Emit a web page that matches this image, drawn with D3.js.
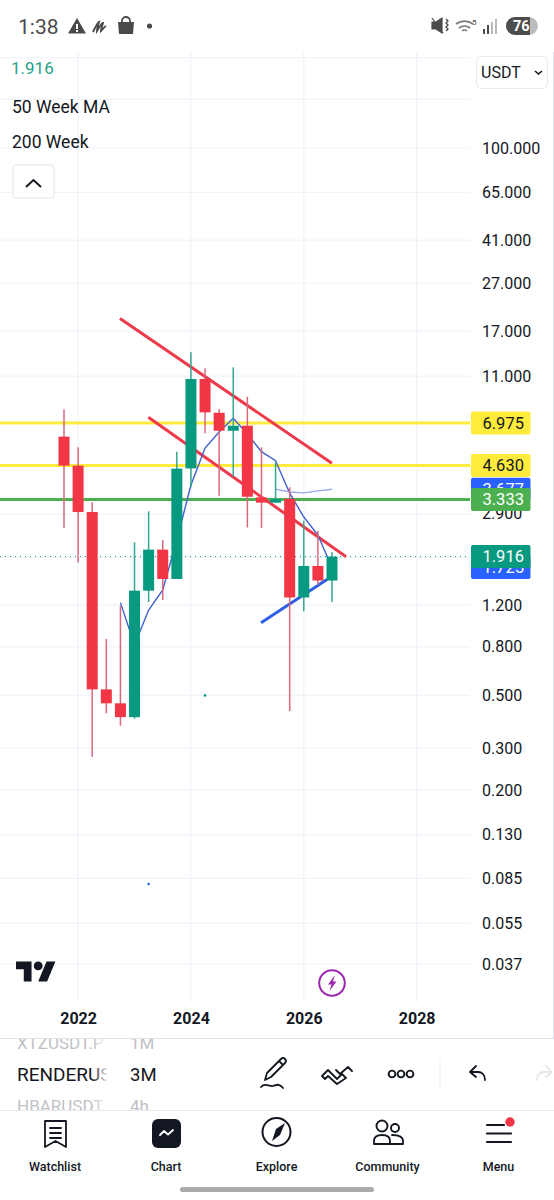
<!DOCTYPE html>
<html><head><meta charset="utf-8">
<script src="https://cdnjs.cloudflare.com/ajax/libs/d3/7.8.5/d3.min.js"></script>
<style>
html,body{margin:0;padding:0;background:#fff;overflow:hidden}
svg{display:block;font-family:Roboto,sans-serif}
text{fill:#131722}
.axis path,.axis line{display:none}
</style></head><body><svg id="c" width="554" height="1200"></svg>
<script>
// quarterly candles, first one is 2021 Q4
const opens =[6.12,4.62,2.95,0.530,0.463,0.405,1.378,2.05,1.543,4.50,10.69,7.71,6.48,6.80,3.40,3.23,3.35,1.29,1.75,1.52];
const closes=[4.62,2.95,0.530,0.463,0.405,1.378,2.05,1.543,4.49,10.69,7.74,6.48,6.80,3.42,3.23,3.35,1.29,1.75,1.52,1.916];
const highs =[7.97,5.52,3.24,0.863,1.188,2.20,2.97,2.25,5.29,13.84,11.86,8.00,11.97,9.01,5.52,4.76,3.75,2.71,2.46,2.00];
const lows  =[2.53,1.81,0.276,0.421,0.373,0.399,1.235,1.259,1.543,3.76,6.32,3.45,4.15,2.54,2.53,3.23,0.430,1.13,1.456,1.235];
const ma50Idx=[4,5,6,7,8,9,10,11,12,13,14,15,16,17,18,19];
const ma50=[1.227,0.814,1.143,1.387,2.25,3.83,5.48,6.40,7.31,6.28,5.29,4.85,3.54,2.81,2.36,1.725];
const ma200Idx=[15,16,17,18,19];
const ma200=[3.68,3.58,3.55,3.62,3.677];
const priceTicks=[100,65,41,27,17,11,2.9,1.2,0.8,0.5,0.3,0.2,0.13,0.085,0.055,0.037];
const hiddenGrid=[240,160,1.9];
const yearIdx=[1,9,17,25];
const yearLabels=["2022","2024","2026","2028"];
const levelValues=[6.975,4.630,3.333];
const levelColors=["#ffeb3b","#ffeb3b","#4caf50"];
const levelLabelColors=["#131722","#131722","#ffffff"];
const redTrendA=[[3.97,19.2],[18.99,4.73]];
const redTrendB=[[5.98,7.38],[20,1.915]];
const blueTrend=[[13.97,1.011],[18.67,1.538]];
const strayIdx=[10,6];
const strayPrice=[0.5,0.0805];
const strayColor=["#089981","#2962ff"];

const svg=d3.select("#c");
const x=d3.scaleLinear().domain([0,19]).range([64,332]);
const y=d3.scaleLog().domain([100,0.037]).range([148,964.4]);
const W=470, T=44, B=1002;
const GREEN="#089981",RED="#f23645";

const defs=svg.append("defs");
defs.append("clipPath").attr("id","pane").append("rect").attr("x",0).attr("y",T).attr("width",W).attr("height",B-T);
const pane=svg.append("g").attr("clip-path","url(#pane)");

// grid
const gridCol="#f0f3fa";
pane.append("g").selectAll("line").data(priceTicks.concat(hiddenGrid)).join("line")
 .attr("x1",0).attr("x2",W).attr("y1",d=>y(d)).attr("y2",d=>y(d)).attr("stroke",gridCol).attr("stroke-width",1.2);
pane.append("g").selectAll("line").data(yearIdx).join("line")
 .attr("x1",d=>x(d)).attr("x2",d=>x(d)).attr("y1",T+8).attr("y2",B).attr("stroke",gridCol).attr("stroke-width",1.2);

// horizontal levels
pane.append("g").selectAll("line").data(levelValues).join("line")
 .attr("x1",0).attr("x2",W).attr("y1",d=>y(d)).attr("y2",d=>y(d))
 .attr("stroke",(d,i)=>levelColors[i]).attr("stroke-width",3);
// last price line
pane.append("line").attr("x1",0).attr("x2",W).attr("y1",y(1.916)).attr("y2",y(1.916))
 .attr("stroke",GREEN).attr("stroke-width",1).attr("stroke-dasharray","1 4");

// trend lines
const seg=d3.line().x(d=>x(d[0])).y(d=>y(d[1]));
[[redTrendA,"#ee3a4b"],[redTrendB,"#ee3a4b"],[blueTrend,"#2f5fe6"]].forEach(([t,c])=>{
 pane.append("path").attr("d",seg(t)).attr("stroke",c).attr("stroke-width",3).attr("fill","none");
});
// moving averages
pane.append("path").attr("d",seg(ma50.map((v,i)=>[ma50Idx[i],v]))).attr("fill","none").attr("stroke","#3f60cf").attr("stroke-width",1.4);
pane.append("path").attr("d",seg(ma200.map((v,i)=>[ma200Idx[i],v]))).attr("fill","none").attr("stroke","#9aa9ea").attr("stroke-width",1.4);

// candles
const idx=d3.range(opens.length);
const cg=pane.append("g");
cg.selectAll(".w").data(idx).join("line").attr("class","w")
 .attr("x1",i=>x(i)).attr("x2",i=>x(i)).attr("y1",i=>y(highs[i])).attr("y2",i=>y(lows[i]))
 .attr("stroke",i=>closes[i]>=opens[i]?"#35a58d":"#d9687c").attr("stroke-width",1.5);
cg.selectAll(".b").data(idx).join("rect").attr("class","b")
 .attr("x",i=>x(i)-5.5).attr("width",11)
 .attr("y",i=>y(Math.max(opens[i],closes[i])))
 .attr("height",i=>Math.abs(y(opens[i])-y(closes[i])))
 .attr("fill",i=>closes[i]>=opens[i]?GREEN:RED);
// stray dots
pane.append("g").selectAll("circle").data(strayIdx).join("circle")
 .attr("cx",d=>x(d)).attr("cy",(d,i)=>y(strayPrice[i])).attr("r",1.3).attr("fill",(d,i)=>strayColor[i]);

// price axis
svg.append("g").attr("class","axis").attr("transform","translate(470,0)")
 .call(d3.axisRight(y).tickValues(priceTicks).tickFormat(d3.format(".3f")).tickSize(0).tickPadding(12))
 .call(g=>g.selectAll("text").attr("font-size",16).attr("font-family","Roboto").attr("fill","#131722"));
// price tags
function tag(v,bg,fg,label){
 const yy=y(v);
 const g=svg.append("g");
 g.append("rect").attr("x",471).attr("y",yy-11.5).attr("width",59.5).attr("height",23).attr("rx",2).attr("fill",bg);
 g.append("text").attr("x",482.5).attr("y",yy).attr("dy","0.35em").attr("font-size",16.5).style("fill",fg).text(label);
}
tag(3.677,"#2962ff","#fff","3.677");
tag(1.725,"#2962ff","#fff","1.725");
levelValues.forEach((v,i)=>tag(v,levelColors[i],levelLabelColors[i],d3.format(".3f")(v)));
tag(1.916,GREEN,"#fff","1.916");

// year axis
svg.append("g").attr("class","axis").attr("transform","translate(0,1002)")
 .call(d3.axisBottom(x).tickValues(yearIdx).tickFormat((d,i)=>yearLabels[i]).tickSize(0).tickPadding(11))
 .call(g=>g.selectAll("text").attr("font-size",16).attr("font-weight",700).attr("font-family","Roboto").attr("fill","#131722"));

// frame
svg.append("line").attr("x1",553.5).attr("x2",553.5).attr("y1",T+8).attr("y2",1038).attr("stroke","#e0e3eb");
svg.append("line").attr("x1",0).attr("x2",554).attr("y1",1038.5).attr("y2",1038.5).attr("stroke","#e0e3eb");

// legend
svg.append("text").attr("x",11).attr("y",74).attr("font-size",17).style("fill","#26a18a").text("1.916");
svg.append("text").attr("x",12).attr("y",113).attr("font-size",17.5).text("50 Week MA");
svg.append("text").attr("x",12).attr("y",148).attr("font-size",17.5).text("200 Week");
svg.append("rect").attr("x",13).attr("y",165).attr("width",41).attr("height",33).attr("rx",3).attr("fill","#fff").attr("stroke","#e0e3eb");
svg.append("path").attr("d","M26 187l7.5-7 7.5 7").attr("fill","none").attr("stroke","#131722").attr("stroke-width",2);
svg.append("rect").attr("x",476.5).attr("y",56.5).attr("width",71).attr("height",32).attr("rx",4).attr("fill","#fff").attr("stroke","#e8eaf0");
svg.append("text").attr("x",481).attr("y",78).attr("font-size",16).text("USDT");
svg.append("path").attr("d","M535 71l3.5 3 3.5-3").attr("fill","none").attr("stroke","#131722").attr("stroke-width",1.6);

// TradingView logo
const lg=svg.append("g").attr("transform","translate(16,957) scale(1.11)");
lg.append("path").attr("d","M14 22H7V11H0V4h14v18zM28 22h-8l7.5-18h8L28 22z").attr("fill","#131722");
lg.append("circle").attr("cx",20).attr("cy",8).attr("r",4).attr("fill","#131722");
// purple bolt
svg.append("circle").attr("cx",332).attr("cy",983).attr("r",12.8).attr("fill","#fff").attr("stroke","#9c27b0").attr("stroke-width",2);
svg.append("path").attr("d","M335 975l-7 9.5h3.5l-2 6.5 7-9.5h-3.5z").attr("fill","#9c27b0");

// status bar
const dark="#4a4a4a";
svg.append("text").attr("x",18).attr("y",34).attr("font-size",21).style("fill",dark).text("1:38");
svg.append("path").attr("d","M77 18l9 15.5H68zM76 24v5h2v-5zM76 30v2h2v-2z").attr("fill",dark).attr("fill-rule","evenodd");
svg.append("path").attr("d","M93 32c2-4 4-9 6-10-1 3-2 7-2 9 2-3 4-8 6-8-1 3-2 6-2 8 2-2 3-4 5-5").attr("fill","none").attr("stroke",dark).attr("stroke-width",1.9);
svg.append("path").attr("d","M118 22h16l-1 12h-14z").attr("fill",dark);
svg.append("path").attr("d","M122 22v-1a4 4 0 0 1 8 0v1").attr("fill","none").attr("stroke",dark).attr("stroke-width",1.8);
svg.append("circle").attr("cx",149.5).attr("cy",26).attr("r",2.6).attr("fill",dark);
svg.append("path").attr("d","M432 22h4l6-4v15l-6-4h-4zM432 18l11 15").attr("fill",dark).attr("stroke",dark).attr("stroke-width",1.2);
svg.append("path").attr("d","M446 19l2 2-2 2 2 2-2 2 2 2-2 2").attr("fill","none").attr("stroke",dark).attr("stroke-width",1.3);
svg.append("path").attr("d","M456 24a14 14 0 0 1 17 0M459 28a9 9 0 0 1 11 0M462 31a4 4 0 0 1 5 0").attr("fill","none").attr("stroke","#777").attr("stroke-width",1.6);
svg.append("text").attr("x",472).attr("y",25).attr("font-size",8).style("fill",dark).text("5");
[[483,5],[487,9],[491,12],[495,15]].forEach((b,i)=>svg.append("rect").attr("x",b[0]).attr("y",34-b[1]).attr("width",2).attr("height",b[1]).attr("fill",i<2?dark:"#bbb"));
svg.append("rect").attr("x",506).attr("y",17).attr("width",32).attr("height",18).attr("rx",9).attr("fill","#bdbdbd");
svg.append("path").attr("d","M515 17h15v18h-15a9 9 0 0 1 0-18z").attr("fill","#4d4d4d");
svg.append("text").attr("x",513).attr("y",31).attr("font-size",14.5).attr("font-weight",700).style("fill","#fff").text("76");

// symbol list
defs.append("clipPath").attr("id","wheel").append("rect").attr("x",0).attr("y",1039).attr("width",554).attr("height",71);
defs.append("clipPath").attr("id","wheelName").append("rect").attr("x",0).attr("y",1039).attr("width",107).attr("height",71);
const grad=defs.append("linearGradient").attr("id","fade");
grad.append("stop").attr("offset","0").attr("stop-color","#fff").attr("stop-opacity",0);
grad.append("stop").attr("offset","1").attr("stop-color","#fff").attr("stop-opacity",1);
const wh=svg.append("g").attr("clip-path","url(#wheel)");
const whName=svg.append("g").attr("clip-path","url(#wheelName)");
const listSymbols=["XTZUSDT.P","RENDERUSDT","HBARUSDT"];
const listFrames=["1M","3M","4h"];
[1049,1081,1112].forEach((yy,i)=>{
 const c=i==1?"#131722":"#bfc1c6";
 whName.append("text").attr("x",17).attr("y",yy).attr("font-size",i==1?19:17).style("fill",c).text(listSymbols[i]);
 wh.append("text").attr("x",130).attr("y",yy).attr("font-size",i==1?18.5:17).style("fill",c).text(listFrames[i]);
});
svg.append("rect").attr("x",93).attr("y",1039).attr("width",15).attr("height",71).attr("fill","url(#fade)");
svg.append("line").attr("x1",0).attr("x2",554).attr("y1",1110.5).attr("y2",1110.5).attr("stroke","#e8eaf0");
// toolbar icons
const stk=(d,c="#131722",w=1.8)=>svg.append("path").attr("d",d).attr("fill","none").attr("stroke",c).attr("stroke-width",w).attr("stroke-linejoin","round").attr("stroke-linecap","round");
stk("M265 1080l2-7 14-14a2.5 2.5 0 0 1 4 4l-14 14zM279 1061l4 4");
stk("M261 1087c4-5 8 0 12-1s6-3 10 2");
stk("M322 1076l6-6 9 9 5-5 4 4-9 6-9-8-3 3zM336 1070l4 4 8-7 4 4");
[392,401,410].forEach(cx=>svg.append("circle").attr("cx",cx).attr("cy",1074).attr("r",3.4).attr("fill","none").attr("stroke","#131722").attr("stroke-width",1.9));
svg.append("line").attr("x1",440).attr("x2",440).attr("y1",1060).attr("y2",1090).attr("stroke","#eceef2");
stk("M476 1066l-6 6 6 5M470 1072h8c4 0 7 3 7 8");
stk("M546 1066l6 6-6 5M552 1072h-8c-4 0-7 3-7 8","#e6e7ea");
// nav bar
const navLabels=["Watchlist","Chart","Explore","Community","Menu"];
const navX=[55,166,276.5,387.5,498.5];
svg.selectAll(".nav").data(navLabels).join("text").attr("class","nav").attr("x",(d,i)=>navX[i]).attr("y",1170.5)
 .attr("text-anchor","middle").attr("font-size",12.5).attr("font-weight",500).text(d=>d);
stk("M45 1121h21v26l-10.500-6-10.500 6zM50 1128h11M50 1133h11M50 1138h11");
svg.append("rect").attr("x",152).attr("y",1119).attr("width",29).attr("height",29).attr("rx",6).attr("fill","#131722");
stk("M160 1135l4-4 4 3.500 5-4.500","#fff",1.8);
svg.append("circle").attr("cx",276.500).attr("cy",1132).attr("r",14).attr("fill","none").attr("stroke","#131722").attr("stroke-width",2);
svg.append("path").attr("d","M285 1123l-5 12-8 6 4-12z").attr("fill","#131722");
svg.append("circle").attr("cx",382).attr("cy",1126).attr("r",5.500).attr("fill","none").attr("stroke","#131722").attr("stroke-width",1.9);
svg.append("circle").attr("cx",395).attr("cy",1128).attr("r",4).attr("fill","none").attr("stroke","#131722").attr("stroke-width",1.9);
stk("M374 1144v-3c0-4 3-6 8-6s8 2 8 6v3zM392 1135c5 0 11 1 11 6v3h-13");
stk("M487 1125h17","#131722",2.200);
stk("M487 1133.500h24","#131722",2.200);
stk("M487 1142h24","#131722",2.200);
svg.append("circle").attr("cx",510).attr("cy",1122).attr("r",4.700).attr("fill","#f23645");
svg.append("rect").attr("x",180).attr("y",1187).attr("width",194).attr("height",5).attr("rx",2.500).attr("fill","#aaaaaa");
</script></body></html>
